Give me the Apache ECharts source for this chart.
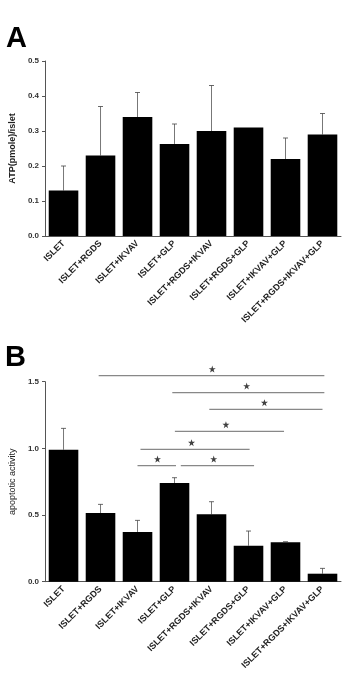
<!DOCTYPE html>
<html>
<head>
<meta charset="utf-8">
<script src="https://cdn.jsdelivr.net/npm/echarts@6/dist/echarts.min.js"></script>
<style>html,body{margin:0;padding:0;background:#fff;}#c{width:346px;height:678px;}</style>
</head>
<body>
<div id="c"></div>
<script>
var categories = ['ISLET','ISLET+RGDS','ISLET+IKVAV','ISLET+GLP','ISLET+RGDS+IKVAV','ISLET+RGDS+GLP','ISLET+IKVAV+GLP','ISLET+RGDS+IKVAV+GLP'];
var atpValues = [0.13, 0.23, 0.34, 0.263, 0.30, 0.31, 0.22, 0.29];
var atpErrTop = [0.20, 0.37, 0.41, 0.32, 0.43, null, 0.28, 0.35];
var apoValues = [0.99, 0.515, 0.373, 0.74, 0.505, 0.27, 0.295, 0.06];
var apoErrTop = [1.15, 0.58, 0.46, 0.78, 0.60, 0.38, 0.30, 0.10];
var atpTicks = [0, 0.1, 0.2, 0.3, 0.4, 0.5];
var apoTicks = [0, 0.5, 1.0, 1.5];
// significance brackets: [startPos, endPos, y, starPos]
var sigLines = [
  [0.95, 7.05, 1.545, 4.02],
  [2.94, 7.05, 1.418, 4.95],
  [3.94, 7.00, 1.293, 5.43],
  [3.01, 5.96, 1.128, 4.39],
  [2.08, 5.03, 0.993, 3.46],
  [2.00, 3.04, 0.870, 2.54],
  [3.17, 5.15, 0.870, 4.06]
];
var starOffset = 0.05;

var FONT = 'Liberation Sans, Arial, sans-serif';
var chart = echarts.init(document.getElementById('c'), null, {renderer:'canvas'});

var series = [
  {type:'bar', xAxisIndex:0, yAxisIndex:0, data:atpValues, barCategoryGap:'20%', itemStyle:{color:'#000'}, z:2},
  {type:'bar', xAxisIndex:1, yAxisIndex:1, data:apoValues, barCategoryGap:'20%', itemStyle:{color:'#000'}, z:2}
];

function addErrors(xi, yi, vals, errs) {
  var caps = [];
  vals.forEach(function(v, i){
    var e = errs[i];
    if (e === null) return;
    series.push({type:'line', xAxisIndex:xi, yAxisIndex:yi, symbol:'none', silent:true, z:1,
      lineStyle:{color:'#777', width:1}, data:[[i, v], [i, e]]});
    caps.push([i, e]);
  });
  series.push({type:'scatter', xAxisIndex:xi, yAxisIndex:yi, silent:true, z:3,
    symbol:'rect', symbolSize:[5, 1], itemStyle:{color:'#444'}, data:caps});
}
addErrors(2, 0, atpValues, atpErrTop);
addErrors(3, 1, apoValues, apoErrTop);

sigLines.forEach(function(s){
  series.push({type:'line', xAxisIndex:3, yAxisIndex:1, clip:false, symbol:'none', silent:true,
    lineStyle:{color:'#888', width:1.3}, data:[[s[0], s[2]], [s[1], s[2]]]});
});
series.push({type:'scatter', xAxisIndex:3, yAxisIndex:1, clip:false, silent:true,
  symbol:'path://M50,0 L61.8,35.3 L98.9,35.3 L68.8,57.1 L80.3,92.4 L50,70.6 L19.7,92.4 L31.2,57.1 L1.1,35.3 L38.2,35.3 Z',
  symbolSize:7, itemStyle:{color:'#111'},
  data: sigLines.map(function(s){ return [s[3], s[2] + starOffset]; })});

var xLabel = {interval:0, rotate:45, fontSize:9, fontWeight:'bold', color:'#222', fontFamily:FONT, margin:6};
var axLine = {onZero:false, lineStyle:{color:'#555', width:1}};
var yLabel = {fontSize:8, fontWeight:'bold', color:'#333', fontFamily:FONT, margin:6,
  formatter:function(v){return v.toFixed(1);}};

chart.setOption({
  animation:false,
  backgroundColor:'#fff',
  graphic:[
    {type:'text', left:6, top:24, style:{text:'A', font:'bold 29px ' + FONT, fill:'#000'}},
    {type:'text', left:5, top:343, style:{text:'B', font:'bold 29px ' + FONT, fill:'#000'}}
  ],
  grid:[
    {left:42, right:5, top:61, height:175},
    {left:42, right:5, top:381.7, height:200}
  ],
  xAxis:[
    {type:'category', gridIndex:0, data:categories, axisTick:{show:false}, axisLine:axLine, axisLabel:xLabel},
    {type:'category', gridIndex:1, data:categories, axisTick:{show:false}, axisLine:axLine, axisLabel:xLabel},
    {type:'value', gridIndex:0, min:-0.5, max:7.5, show:false},
    {type:'value', gridIndex:1, min:-0.5, max:7.5, show:false}
  ],
  yAxis:[
    {type:'value', gridIndex:0, min:atpTicks[0], max:atpTicks[atpTicks.length-1], interval:0.1,
      name:'ATP(pmole)/islet', nameLocation:'middle', nameGap:28,
      nameTextStyle:{fontSize:9, fontWeight:'bold', color:'#222', fontFamily:FONT},
      axisLine:{show:true, onZero:false, lineStyle:{color:'#555'}}, axisTick:{show:true, length:3, lineStyle:{color:'#555'}},
      splitLine:{show:false}, axisLabel:yLabel},
    {type:'value', gridIndex:1, min:apoTicks[0], max:apoTicks[apoTicks.length-1], interval:0.5,
      name:'apoptotic activity', nameLocation:'middle', nameGap:28,
      nameTextStyle:{fontSize:9, color:'#222', fontFamily:FONT},
      axisLine:{show:true, onZero:false, lineStyle:{color:'#555'}}, axisTick:{show:true, length:3, lineStyle:{color:'#555'}},
      splitLine:{show:false}, axisLabel:yLabel}
  ],
  series: series
});
</script>
</body>
</html>
